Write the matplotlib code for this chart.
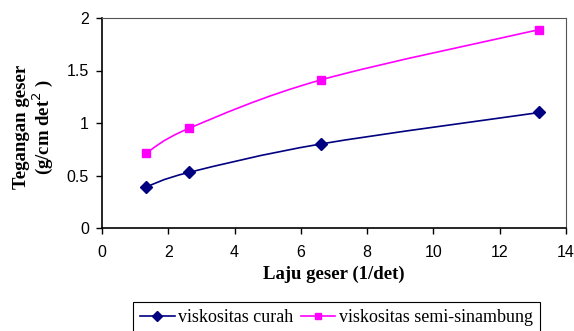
import matplotlib.pyplot as plt
from matplotlib.path import Path
from matplotlib.patches import PathPatch

laju = [1.32, 2.63, 6.6, 13.2]
curah = [0.39, 0.53, 0.80, 1.10]
semi = [0.71, 0.95, 1.41, 1.89]

plt.rcParams['font.family'] = 'Liberation Sans'


def smooth_path(xs, ys):
    # Catmull-Rom through the points, written as cubic Bezier segments
    pts = list(zip(xs, ys))
    verts = [pts[0]]
    codes = [Path.MOVETO]
    for i in range(len(pts) - 1):
        p0 = pts[i - 1] if i > 0 else pts[i]
        p1 = pts[i]
        p2 = pts[i + 1]
        p3 = pts[i + 2] if i + 2 < len(pts) else pts[i + 1]
        c1 = (p1[0] + (p2[0] - p0[0]) / 6, p1[1] + (p2[1] - p0[1]) / 6)
        c2 = (p2[0] - (p3[0] - p1[0]) / 6, p2[1] - (p3[1] - p1[1]) / 6)
        verts += [c1, c2, p2]
        codes += [Path.CURVE4] * 3
    return Path(verts, codes)


fig = plt.figure(figsize=(5.74, 3.31), dpi=100)
ax = fig.add_axes([102 / 574, 1 - 228 / 331, 464 / 574, 210 / 331])

for ys, col, mk, ms, name in [(curah, '#000080', 'D', 6, 'viskositas curah'),
                              (semi, '#FF00FF', 's', 6, 'viskositas semi-sinambung')]:
    ax.add_patch(PathPatch(smooth_path(laju, ys), fill=False, edgecolor=col, lw=1.2))
    ax.plot(laju, ys, ls='none', marker=mk, ms=ms, color=col)
    ax.plot([], [], color=col, marker=mk, ms=5, lw=1.2, label=name)

ax.set_xlim(0, 14)
ax.set_ylim(0, 2)
ax.set_xticks(range(0, 15, 2))
ax.set_yticks([0, 0.5, 1, 1.5, 2])
ax.set_yticklabels(['0', '0.5', '1', '1.5', '2'])
ax.tick_params(direction='out', length=4.5, labelsize=11.5, width=1)
ax.tick_params(axis='x', pad=8)
ax.tick_params(axis='y', pad=5)
for s in ['top', 'right']:
    ax.spines[s].set_color('#555555')
for s in ['left', 'bottom']:
    ax.spines[s].set_linewidth(1.2)

ax.set_xlabel('Laju geser (1/det)', family='Liberation Serif', weight='bold', fontsize=13.5, labelpad=4)
ax.set_ylabel('Tegangan geser\n(g/cm det$^{2}$ )', family='Liberation Serif', weight='bold',
              fontsize=13.5, linespacing=1.0, va='center')
ax.yaxis.set_label_coords((34 - 102) / 464, 0.48)

leg = fig.legend(loc='upper left', bbox_to_anchor=(133 / 574, 1 - 302 / 331), ncol=2,
                 frameon=True, fancybox=False, edgecolor='black', framealpha=1,
                 prop={'family': 'Liberation Serif', 'size': 13},
                 handlelength=1.9, columnspacing=0.4, handletextpad=0.2,
                 borderpad=0.4, borderaxespad=0)
leg.get_frame().set_linewidth(0.8)

fig.savefig('out.png', dpi=100)
